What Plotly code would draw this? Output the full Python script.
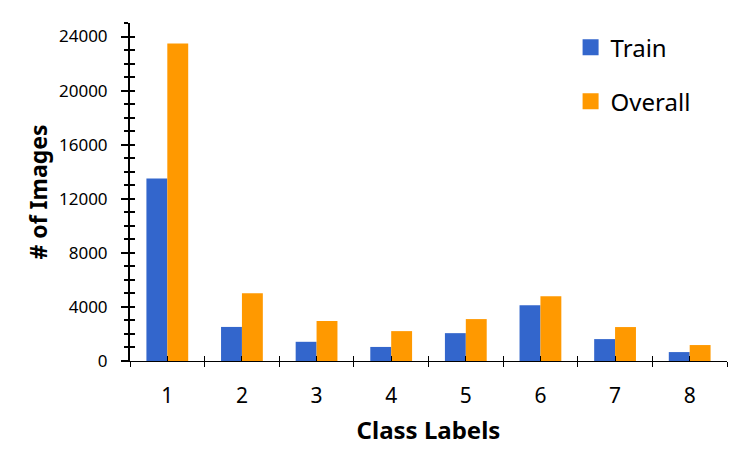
import plotly.graph_objects as go

categories = ["1", "2", "3", "4", "5", "6", "7", "8"]
train = [13500, 2520, 1420, 1040, 2060, 4130, 1620, 660]
overall = [23480, 5020, 2960, 2210, 3100, 4790, 2510, 1180]
series_names = ["Train", "Overall"]
colors = ["#3366CC", "#FF9900"]

FONT = "Noto Sans"

fig = go.Figure()
fig.add_trace(go.Bar(x=categories, y=train, name=series_names[0], marker_color=colors[0],
                     marker_line_width=0, showlegend=False))
fig.add_trace(go.Bar(x=categories, y=overall, name=series_names[1], marker_color=colors[1],
                     marker_line_width=0, showlegend=False))
# legend entries (square swatches) on the overlay axes
for i, nm in enumerate(series_names):
    fig.add_trace(go.Scatter(x=[None], y=[None], mode="markers", name=nm,
                             marker=dict(symbol="square", size=16, color=colors[i]),
                             xaxis="x2", yaxis="y2", legendgroup=nm, showlegend=True))

fig.update_layout(
    width=750, height=450,
    margin=dict(l=130, r=23, t=23, b=89, autoexpand=False),
    plot_bgcolor="white", paper_bgcolor="white",
    barmode="group", bargap=0.44, bargroupgap=0,
    font=dict(family=FONT, color="black"),
    showlegend=True,
    legend=dict(x=0.738, y=0.994, xanchor="left", yanchor="top",
                font=dict(size=24, family=FONT), traceorder="grouped",
                tracegroupgap=20, bgcolor="rgba(0,0,0,0)"),
    xaxis=dict(type="category", showline=True, linecolor="black", linewidth=1.3,
               tickson="boundaries", ticks="outside", ticklen=5, tickwidth=1.3,
               tickcolor="black", showgrid=False, zeroline=False, automargin=False,
               tickfont=dict(size=21, family=FONT), ticklabelstandoff=16,
               title=dict(text="<b>Class Labels</b>", font=dict(size=24, family=FONT),
                          standoff=13)),
    yaxis=dict(range=[0, 25000], dtick=4000, tick0=0, showline=True, linecolor="black",
               linewidth=2, ticks="outside", ticklen=7, tickwidth=2, tickcolor="black",
               minor=dict(dtick=1000, ticks="outside", ticklen=4, tickwidth=2, tickcolor="black"),
               showgrid=False, zeroline=False, tickformat="d", automargin=False,
               tickfont=dict(size=17, family=FONT), ticklabelstandoff=10,
               title=dict(text="<b># of Images</b>", font=dict(size=23, family=FONT),
                          standoff=5)),
    xaxis2=dict(overlaying="x", range=[0.5, 8.5], tickmode="array",
                tickvals=[0.5 + 0.5 * k for k in range(17)], ticks="inside", ticklen=5,
                tickwidth=1.3, tickcolor="black", showticklabels=False, showline=False,
                showgrid=False, zeroline=False),
    yaxis2=dict(overlaying="y", range=[0, 25000], dtick=1000, tick0=0, ticks="inside",
                ticklen=5, tickwidth=2, tickcolor="black", showticklabels=False,
                showline=False, showgrid=False, zeroline=False),
)

fig.write_html("out.html", config={"displayModeBar": False},
               post_script="document.body.style.margin='0';")
